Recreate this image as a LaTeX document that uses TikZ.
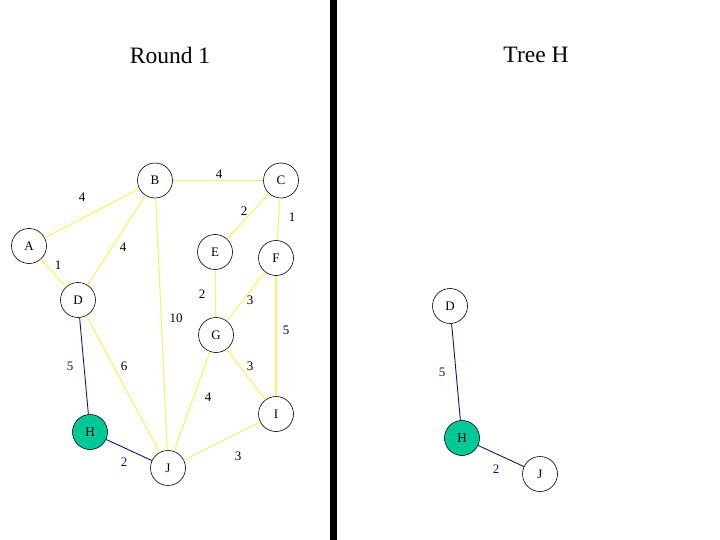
\documentclass[tikz,border=0pt]{standalone}
\usepackage{fontspec}
\setmainfont{Liberation Serif}
\usetikzlibrary{calc}
\definecolor{treeGreen}{HTML}{00C896}
\definecolor{edgeYellow}{HTML}{F8F070}
\definecolor{treeNavy}{HTML}{14146E}

\tikzset{
  vertex/.style={circle, draw, fill=white, minimum size=35bp, inner sep=0pt, line width=0.6bp, font=\fontsize{13bp}{15bp}\selectfont},
  picked/.style={vertex, fill=treeGreen},
  cand/.style={edgeYellow, line width=1.1bp},
  chosen/.style={treeNavy, line width=0.9bp},
  weight/.style={inner sep=0pt, font=\fontsize{13bp}{15bp}\selectfont},
  heading/.style={inner sep=0pt, font=\fontsize{23.5bp}{27bp}\selectfont}
}

\begin{document}
\begin{tikzpicture}[x=1bp, y=-1bp]
        \useasboundingbox (0,0) rectangle (720,540);
        % divider
        \fill[black] (330,0) rectangle (336.5,540);
        \node[heading] (t1) at (170,55) {Round 1};
        \node[heading] (t2) at (536,55) {Tree H};
        % round 1 graph
        \node[vertex] (A) at (29,246) {A};
        \node[vertex] (B) at (155,180.5) {B};
        \node[vertex] (C) at (281,180.5) {C};
        \node[vertex] (D) at (78,300) {D};
        \node[vertex] (E) at (215,252) {E};
        \node[vertex] (F) at (276,258) {F};
        \node[vertex] (G) at (216,335) {G};
        \node[picked] (H) at (90,432) {H};
        \node[vertex] (I) at (276,414) {I};
        \node[vertex] (J) at (168,468) {J};
        \draw[cand] (A) -- (B);
        \draw[cand] (A) -- (D);
        \draw[cand] (B) -- (C);
        \draw[cand] (B) -- (D);
        \draw[cand] (B) -- (J);
        \draw[cand] (C) -- (E);
        \draw[cand] (C) -- (F);
        \draw[cand] (E) -- (G);
        \draw[cand] (F) -- (G);
        \draw[cand] (F) -- (I);
        \draw[cand] (D) -- (J);
        \draw[cand] (G) -- (I);
        \draw[cand] (G) -- (J);
        \draw[cand] (I) -- (J);
        \draw[chosen] (D) -- (H);
        \draw[chosen] (H) -- (J);
        \node[weight] (wAB) at (82,197) {4};
        \node[weight] (wBC) at (219,174) {4};
        \node[weight] (wCE) at (244,211) {2};
        \node[weight] (wCF) at (292,217) {1};
        \node[weight] (wBD) at (123,247) {4};
        \node[weight] (wAD) at (58,265) {1};
        \node[weight] (wEG) at (202,294) {2};
        \node[weight] (wFG) at (250,300) {3};
        \node[weight] (wBJ) at (176,318) {10};
        \node[weight] (wFI) at (286,330) {5};
        \node[weight, treeNavy] (wDH) at (70,366) {5};
        \node[weight] (wDJ) at (124,366) {6};
        \node[weight] (wGI) at (250,366) {3};
        \node[weight] (wGJ) at (208,397) {4};
        \node[weight, treeNavy] (wHJ) at (124,462) {2};
        \node[weight] (wIJ) at (238,456) {3};
        % tree H
        \node[vertex] (tD) at (450,306) {D};
        \node[picked] (tH) at (462,438) {H};
        \node[vertex] (tJ) at (540,474) {J};
        \draw[chosen] (tD) -- (tH);
        \draw[chosen] (tH) -- (tJ);
        \node[weight, treeNavy] (twDH) at (442,372) {5};
        \node[weight, treeNavy] (twHJ) at (496,469) {2};
      \end{tikzpicture}
\end{document}
